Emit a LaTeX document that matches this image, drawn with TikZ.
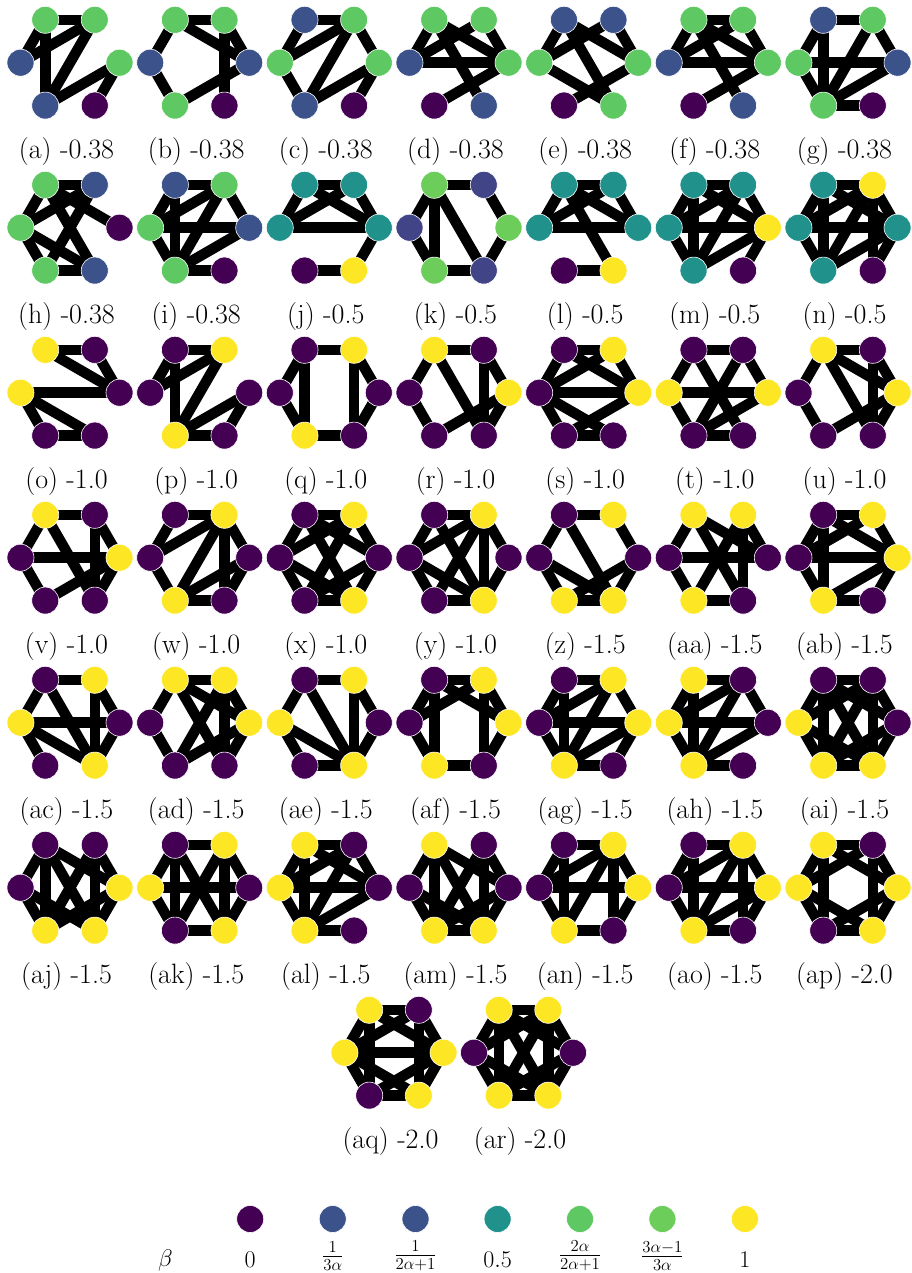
\RequirePackage{fix-cm}
\documentclass[tikz,border=0pt]{standalone}
\usepackage{amsmath}
\pgfdeclarelayer{bg}
\pgfdeclarelayer{paper}
\pgfsetlayers{paper,bg,main}
\definecolor{vP}{HTML}{440154}
\definecolor{vB}{HTML}{3B528B}
\definecolor{vBb}{HTML}{414487}
\definecolor{vT}{HTML}{21918C}
\definecolor{vG}{HTML}{5EC962}
\definecolor{vGb}{HTML}{6CCD5A}
\definecolor{vY}{HTML}{FDE725}
\def\cxA{70}\def\cxB{199.7}\def\cxC{329.3}\def\cxD{459}\def\cxE{588.7}\def\cxF{718.3}\def\cxG{848}
\def\cyA{62.7}\def\cyB{227.7}\def\cyC{392.7}\def\cyD{557.7}\def\cyE{722.7}\def\cyF{887.7}\def\cyG{1052.7}
\newcommand\hexG[9]{%
  \node[vx,fill=#4] (#1TL) at ({#2-24.75},{#3-42.87}) {};
  \node[vx,fill=#5] (#1TR) at ({#2+24.75},{#3-42.87}) {};
  \node[vx,fill=#6] (#1L) at ({#2-49.5},{#3}) {};
  \node[vx,fill=#7] (#1R) at ({#2+49.5},{#3}) {};
  \node[vx,fill=#8] (#1BL) at ({#2-24.75},{#3+42.87}) {};
  \node[vx,fill=#9] (#1BR) at ({#2+24.75},{#3+42.87}) {};}
\newcommand\hexE[2]{\begin{pgfonlayer}{bg}\foreach \u/\v in {#2}{\draw[lnk] (#1\u.center) -- (#1\v.center);}\end{pgfonlayer}}
\newcommand\hexL[4]{\node[lbl] (#1lab) at ({#2-3.5},{#3+89}) {(#1) #4};}
\begin{document}
\begin{tikzpicture}[x=1pt,y=-1pt,
  vx/.style={circle,minimum size=27pt,inner sep=0pt,draw=white,line width=0.6pt},
  lnk/.style={line width=10.5pt,black},
  lbl/.style={font=\fontsize{28}{33}\selectfont,inner sep=0pt},
  legt/.style={font=\fontsize{24}{28}\selectfont,inner sep=0pt}]
\begin{pgfonlayer}{paper}
\fill[white] (0,0) rectangle (911,1273);
\end{pgfonlayer}
\useasboundingbox (0,0) rectangle (911,1273);
% row 1
\hexG{a}{\cxA}{\cyA}{vG}{vG}{vB}{vG}{vB}{vP}
\hexE{a}{TL/TR,TL/L,L/TR,TL/BL,TR/BL,R/BL,R/BR}
\hexL{a}{\cxA}{\cyA}{-0.38}
\hexG{b}{\cxB}{\cyA}{vG}{vG}{vB}{vB}{vG}{vP}
\hexE{b}{TL/TR,TL/L,L/BL,TL/R,TR/R,TR/BR,R/BL}
\hexL{b}{\cxB}{\cyA}{-0.38}
\hexG{c}{\cxC}{\cyA}{vB}{vG}{vG}{vG}{vB}{vP}
\hexE{c}{TL/TR,TL/L,TR/L,TR/BL,TR/R,L/BL,R/BL,R/BR}
\hexL{c}{\cxC}{\cyA}{-0.38}
\hexG{d}{\cxD}{\cyA}{vG}{vG}{vB}{vG}{vP}{vB}
\hexE{d}{TL/L,TL/R,TR/L,TR/R,L/R,TL/BR,R/BL}
\hexL{d}{\cxD}{\cyA}{-0.38}
\hexG{e}{\cxE}{\cyA}{vB}{vB}{vG}{vG}{vP}{vG}
\hexE{e}{TL/L,TL/R,TR/L,TR/R,TL/BR,L/BR,R/BL}
\hexL{e}{\cxE}{\cyA}{-0.38}
\hexG{f}{\cxF}{\cyA}{vG}{vG}{vB}{vG}{vP}{vB}
\hexE{f}{TL/TR,TL/L,TL/R,TR/L,TR/R,L/R,TL/BR,R/BL}
\hexL{f}{\cxF}{\cyA}{-0.38}
\hexG{g}{\cxG}{\cyA}{vB}{vG}{vG}{vB}{vG}{vP}
\hexE{g}{TL/TR,TL/L,L/BL,BL/BR,TR/R,L/R,TL/BL,TR/BL,R/BL}
\hexL{g}{\cxG}{\cyA}{-0.38}
% row 2
\hexG{h}{\cxA}{\cyB}{vG}{vB}{vG}{vP}{vG}{vB}
\hexE{h}{TL/TR,TL/L,L/BL,BL/BR,TR/L,TL/R,TL/BR,TR/BL,L/BR}
\hexL{h}{\cxA}{\cyB}{-0.38}
\hexG{i}{\cxB}{\cyB}{vB}{vG}{vG}{vB}{vG}{vP}
\hexE{i}{TL/TR,TL/L,L/BL,BL/BR,TR/R,L/R,TL/BL,TR/L,TR/BL,R/BL}
\hexL{i}{\cxB}{\cyB}{-0.38}
\hexG{j}{\cxC}{\cyB}{vT}{vT}{vT}{vT}{vP}{vY}
\hexE{j}{TL/TR,TL/L,TR/R,L/R,TL/R,TR/L,R/BR,BL/BR}
\hexL{j}{\cxC}{\cyB}{-0.5}
\hexG{k}{\cxD}{\cyB}{vGb}{vBb}{vBb}{vGb}{vGb}{vBb}
\hexE{k}{TL/TR,TR/R,R/BR,BL/BR,TL/L,L/BL,TL/BL,TL/BR}
\hexL{k}{\cxD}{\cyB}{-0.5}
\hexG{l}{\cxE}{\cyB}{vT}{vT}{vT}{vT}{vP}{vY}
\hexE{l}{TL/TR,TL/L,TR/R,L/R,TL/R,TR/L,TL/BR,BL/BR}
\hexL{l}{\cxE}{\cyB}{-0.5}
\hexG{m}{\cxF}{\cyB}{vT}{vT}{vT}{vY}{vT}{vP}
\hexE{m}{TL/TR,TL/L,L/BL,TR/R,TR/L,TL/R,L/R,TL/BL,TR/BL,R/BL,R/BR}
\hexL{m}{\cxF}{\cyB}{-0.5}
\hexG{n}{\cxG}{\cyB}{vT}{vY}{vT}{vT}{vT}{vP}
\hexE{n}{TL/TR,TL/L,TR/R,L/R,TL/BL,TR/BR,TR/L,TL/R,TR/BL,R/BL,L/BL,R/BR}
\hexL{n}{\cxG}{\cyB}{-0.5}
% row 3
\hexG{o}{\cxA}{\cyC}{vY}{vP}{vY}{vP}{vP}{vP}
\hexE{o}{TL/TR,TL/R,TR/R,L/R,L/BL,L/BR,BL/BR}
\hexL{o}{\cxA}{\cyC}{-1.0}
\hexG{p}{\cxB}{\cyC}{vP}{vY}{vP}{vP}{vY}{vP}
\hexE{p}{TL/TR,TL/L,TR/L,TL/BL,TR/BL,R/BL,R/BR,BL/BR}
\hexL{p}{\cxB}{\cyC}{-1.0}
\hexG{q}{\cxC}{\cyC}{vP}{vY}{vP}{vP}{vY}{vP}
\hexE{q}{TL/TR,TL/L,L/BL,TL/BL,TR/BR,TR/R,R/BR,BL/BR}
\hexL{q}{\cxC}{\cyC}{-1.0}
\hexG{r}{\cxD}{\cyC}{vY}{vP}{vP}{vY}{vP}{vP}
\hexE{r}{TL/TR,TL/L,L/BL,TL/BR,TR/BR,TR/R,R/BL,R/BR}
\hexL{r}{\cxD}{\cyC}{-1.0}
\hexG{s}{\cxE}{\cyC}{vP}{vY}{vP}{vY}{vP}{vP}
\hexE{s}{TL/TR,TL/L,TR/R,L/R,TL/R,TR/L,L/BL,R/BL,BL/BR,L/BR}
\hexL{s}{\cxE}{\cyC}{-1.0}
\hexG{t}{\cxF}{\cyC}{vP}{vP}{vY}{vY}{vP}{vP}
\hexE{t}{TL/TR,TL/L,TR/R,L/R,TL/BR,TR/BL,L/BL,R/BL,BL/BR}
\hexL{t}{\cxF}{\cyC}{-1.0}
\hexG{u}{\cxG}{\cyC}{vY}{vP}{vP}{vY}{vP}{vP}
\hexE{u}{TL/TR,TL/L,L/BL,TL/BR,TR/BR,TR/R,R/BL,R/BR,TL/R}
\hexL{u}{\cxG}{\cyC}{-1.0}
% row 4
\hexG{v}{\cxA}{\cyD}{vY}{vP}{vP}{vY}{vP}{vP}
\hexE{v}{TL/TR,TL/L,L/BL,L/R,TL/BR,TR/BR,TR/R,R/BR,R/BL}
\hexL{v}{\cxA}{\cyD}{-1.0}
\hexG{w}{\cxB}{\cyD}{vP}{vY}{vP}{vP}{vY}{vP}
\hexE{w}{TL/TR,TL/L,TR/L,TR/BL,TR/BR,TR/R,L/BL,R/BL,R/BR,BL/BR}
\hexL{w}{\cxB}{\cyD}{-1.0}
\hexG{x}{\cxC}{\cyD}{vP}{vY}{vP}{vP}{vP}{vY}
\hexE{x}{TL/TR,TR/R,R/BR,BL/BR,L/BL,TL/L,TL/BR,TR/BL,TL/R,TR/L,L/BR,R/BL}
\hexL{x}{\cxC}{\cyD}{-1.0}
\hexG{y}{\cxD}{\cyD}{vP}{vY}{vP}{vP}{vP}{vY}
\hexE{y}{TL/TR,TL/L,TR/L,TR/R,TL/BR,TR/BR,TR/BL,L/BL,L/BR,R/BR,BL/BR}
\hexL{y}{\cxD}{\cyD}{-1.0}
\hexG{z}{\cxE}{\cyD}{vP}{vY}{vP}{vP}{vY}{vY}
\hexE{z}{TL/TR,TL/L,TR/R,TL/BR,L/BR,L/BL,R/BL,R/BR,BL/BR}
\hexL{z}{\cxE}{\cyD}{-1.5}
\hexG{aa}{\cxF}{\cyD}{vY}{vY}{vP}{vP}{vY}{vP}
\hexE{aa}{TL/L,L/BL,BL/BR,TR/R,L/R,TL/BR,TR/BL,TR/BR,TL/R}
\hexL{aa}{\cxF}{\cyD}{-1.5}
\hexG{ab}{\cxG}{\cyD}{vP}{vY}{vP}{vY}{vY}{vP}
\hexE{ab}{TL/TR,TL/L,L/BL,L/R,TL/R,TR/L,TR/R,R/BL,R/BR,BL/BR,TL/BL}
\hexL{ab}{\cxG}{\cyD}{-1.5}
% row 5
\hexG{ac}{\cxA}{\cyE}{vP}{vY}{vY}{vP}{vP}{vY}
\hexE{ac}{TL/TR,TL/L,TL/BR,TR/BR,TR/R,L/R,L/BL,L/BR,R/BR}
\hexL{ac}{\cxA}{\cyE}{-1.5}
\hexG{ad}{\cxB}{\cyE}{vY}{vY}{vP}{vY}{vP}{vP}
\hexE{ad}{TL/TR,TL/L,L/BL,TL/BR,TR/BL,TR/BR,TR/R,TL/R,R/BL,R/BR}
\hexL{ad}{\cxB}{\cyE}{-1.5}
\hexG{ae}{\cxC}{\cyE}{vP}{vY}{vY}{vP}{vP}{vY}
\hexE{ae}{TL/TR,TL/L,TL/BR,TR/BR,TR/R,L/BR,L/BL,R/BR,BL/BR}
\hexL{ae}{\cxC}{\cyE}{-1.5}
\hexG{af}{\cxD}{\cyE}{vP}{vY}{vP}{vY}{vY}{vP}
\hexE{af}{TL/TR,TL/L,TR/R,TL/BL,TR/BR,TL/R,TR/L,L/BL,R/BR,BL/BR}
\hexL{af}{\cxD}{\cyE}{-1.5}
\hexG{ag}{\cxE}{\cyE}{vP}{vY}{vP}{vY}{vY}{vP}
\hexE{ag}{TL/TR,TL/L,L/BL,BL/BR,TR/R,TR/L,L/R,TL/BL,TR/BL,R/BL,R/BR}
\hexL{ag}{\cxE}{\cyE}{-1.5}
\hexG{ah}{\cxF}{\cyE}{vY}{vP}{vY}{vP}{vY}{vP}
\hexE{ah}{TL/TR,TL/L,L/BL,TL/BL,TR/R,L/R,TR/L,TR/BL,R/BL,BL/BR}
\hexL{ah}{\cxF}{\cyE}{-1.5}
\hexG{ai}{\cxG}{\cyE}{vP}{vP}{vY}{vP}{vY}{vY}
\hexE{ai}{TL/TR,TL/L,TR/R,TL/BL,TR/BR,TL/BR,TR/BL,TL/R,TR/L,L/BL,R/BR,BL/BR,L/BR,R/BL}
\hexL{ai}{\cxG}{\cyE}{-1.5}
% row 6
\hexG{aj}{\cxA}{\cyF}{vP}{vP}{vP}{vY}{vY}{vY}
\hexE{aj}{TL/L,TL/R,TL/BL,TL/BR,TR/BL,TR/BR,TR/R,L/BL,L/BR,R/BL,R/BR}
\hexL{aj}{\cxA}{\cyF}{-1.5}
\hexG{ak}{\cxB}{\cyF}{vP}{vY}{vY}{vP}{vP}{vY}
\hexE{ak}{TL/TR,BL/BR,TL/L,L/BL,TR/R,R/BR,L/R,TL/BL,TR/BR,TL/BR,TR/BL}
\hexL{ak}{\cxB}{\cyF}{-1.5}
\hexG{al}{\cxC}{\cyF}{vY}{vP}{vY}{vP}{vY}{vP}
\hexE{al}{TL/TR,TL/L,L/BL,BL/BR,TR/R,L/R,TL/BL,TR/L,TR/BL,R/BL,TL/R}
\hexL{al}{\cxC}{\cyF}{-1.5}
\hexG{am}{\cxD}{\cyF}{vY}{vP}{vP}{vP}{vY}{vY}
\hexE{am}{TL/L,TL/R,TL/BL,TL/BR,TR/BL,TR/BR,TR/R,L/BL,L/BR,R/BL,R/BR,BL/BR}
\hexL{am}{\cxD}{\cyF}{-1.5}
\hexG{an}{\cxE}{\cyF}{vP}{vY}{vP}{vY}{vY}{vP}
\hexE{an}{TL/TR,TL/L,L/BL,BL/BR,TR/R,R/BR,L/R,TL/BL,TR/BR,TR/L,TR/BL}
\hexL{an}{\cxE}{\cyF}{-1.5}
\hexG{ao}{\cxF}{\cyF}{vP}{vY}{vP}{vY}{vY}{vP}
\hexE{ao}{TL/TR,TL/L,L/BL,BL/BR,TR/R,L/R,TL/BL,TR/L,TR/BL,R/BL,R/BR,TR/BR}
\hexL{ao}{\cxF}{\cyF}{-1.5}
\hexG{ap}{\cxG}{\cyF}{vY}{vP}{vY}{vY}{vP}{vY}
\hexE{ap}{TL/TR,TR/R,R/BR,BR/BL,BL/L,L/TL,TL/R,TR/L,L/BR,R/BL,TL/BL,TR/BR}
\hexL{ap}{\cxG}{\cyF}{-2.0}
% row 7
\hexG{aq}{394}{\cyG}{vY}{vP}{vY}{vY}{vP}{vY}
\hexE{aq}{TL/TR,TR/R,R/BR,BR/BL,BL/L,L/TL,TL/R,TR/L,L/BR,R/BL,TL/BL,TR/BR,L/R}
\hexL{aq}{394}{\cyG}{-2.0}
\hexG{ar}{523.5}{\cyG}{vY}{vY}{vP}{vP}{vY}{vY}
\hexE{ar}{TL/TR,TR/R,R/BR,BR/BL,BL/L,L/TL,TL/R,TR/L,L/BR,R/BL,TL/BL,TR/BR,TL/BR,TR/BL}
\hexL{ar}{523.5}{\cyG}{-2.0}
% legend
\node[vx,fill=vP] (k1) at (250.2,1219) {};
\node[vx,fill=vB] (k2) at (332.7,1219) {};
\node[vx,fill=vB] (k3) at (415.5,1219) {};
\node[vx,fill=vT] (k4) at (497.6,1219) {};
\node[vx,fill=vG] (k5) at (580,1219) {};
\node[vx,fill=vGb] (k6) at (662.4,1219) {};
\node[vx,fill=vY] (k7) at (744.9,1219) {};
\node[legt] (kb) at (165.3,1260) {$\beta$};
\node[legt] (t1) at (250.2,1260) {$0$};
\node[legt] (t2) at (332.7,1256) {$\frac{1}{3\alpha}$};
\node[legt] (t3) at (415.5,1256) {$\frac{1}{2\alpha+1}$};
\node[legt] (t4) at (497.6,1260) {$0.5$};
\node[legt] (t5) at (580,1256) {$\frac{2\alpha}{2\alpha+1}$};
\node[legt] (t6) at (662.4,1256) {$\frac{3\alpha-1}{3\alpha}$};
\node[legt] (t7) at (744.9,1260) {$1$};
\end{tikzpicture}
\end{document}
